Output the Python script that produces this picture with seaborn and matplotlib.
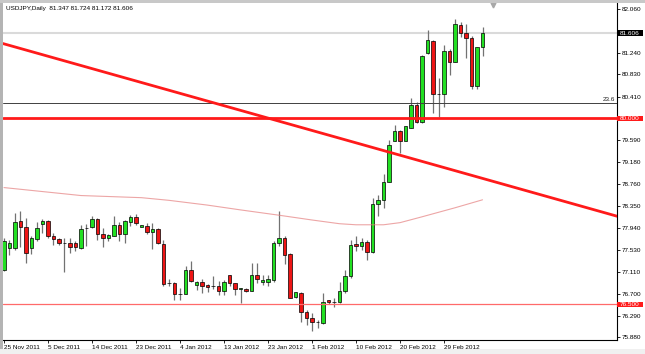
import numpy as np
import pandas as pd
import matplotlib
matplotlib.use("Agg")
import matplotlib.pyplot as plt
import matplotlib.transforms as mtransforms
from matplotlib.patches import Rectangle
import seaborn as sns

# chart header
title_text = "USDJPY,Daily  81.347 81.724 81.172 81.606"

# daily candles, one per bar
opens = [77.15, 77.57, 77.56, 78.07, 77.95, 77.57, 77.73, 78.01, 78.07, 77.79,
         77.73, 77.65, 77.65, 77.65, 77.57, 77.94, 77.95, 78.11, 77.82, 77.75,
         77.79, 77.99, 77.83, 78.06, 78.14, 77.96, 77.98, 77.86, 77.92, 77.64,
         76.91, 76.91, 76.70, 76.70, 77.15, 76.87, 76.92, 76.86, 76.84, 76.84,
         76.76, 77.05, 76.90, 76.80, 76.79, 76.76, 77.05, 76.92, 76.93, 76.96,
         77.65, 77.76, 77.45, 76.64, 76.71, 76.36, 76.24, 76.17, 76.15, 76.58,
         76.55, 76.55, 76.75, 77.04, 77.63, 77.61, 77.67, 77.49, 78.39, 78.47,
         78.81, 79.58, 79.77, 79.58, 79.83, 80.26, 79.93, 81.23, 81.46, 80.46,
         80.46, 81.27, 81.07, 81.76, 81.60, 81.52, 80.62, 81.347]
highs = [77.76, 77.72, 78.22, 78.26, 78.12, 77.79, 78.05, 78.11, 78.09, 77.84,
         77.76, 77.76, 77.75, 77.69, 78.00, 78.01, 78.16, 78.12, 77.94, 77.83,
         78.16, 78.05, 78.09, 78.19, 78.21, 78.00, 78.03, 78.03, 77.94, 77.72,
         76.98, 76.93, 76.81, 77.23, 77.31, 76.95, 76.98, 76.88, 77.03, 76.95,
         76.96, 77.06, 76.91, 76.81, 76.81, 77.29, 77.28, 77.05, 77.06, 77.69,
         78.26, 77.78, 77.46, 76.74, 76.73, 76.40, 76.34, 76.21, 76.71, 76.59,
         76.62, 76.93, 77.15, 77.72, 77.78, 77.76, 77.72, 78.51, 78.56, 78.95,
         79.60, 79.88, 79.78, 79.86, 80.39, 80.31, 81.20, 81.67, 81.48, 80.77,
         81.38, 81.30, 81.87, 81.81, 81.78, 81.56, 81.35, 81.724]
lows = [77.13, 77.43, 77.53, 77.59, 77.28, 77.45, 77.69, 77.84, 77.76, 77.62,
        77.62, 77.11, 77.47, 77.51, 77.55, 77.61, 77.94, 77.72, 77.58, 77.69,
        77.78, 77.69, 77.65, 77.97, 77.99, 77.95, 77.82, 77.54, 77.63, 76.84,
        76.84, 76.59, 76.59, 76.69, 76.93, 76.78, 76.71, 76.74, 76.80, 76.68,
        76.68, 76.84, 76.68, 76.53, 76.73, 76.75, 76.90, 76.87, 76.84, 76.92,
        77.60, 77.26, 76.62, 76.63, 76.18, 76.12, 76.00, 76.06, 76.13, 76.50,
        76.46, 76.53, 76.71, 77.00, 77.50, 77.53, 77.34, 77.47, 78.16, 78.32,
        78.80, 79.57, 79.35, 79.57, 79.82, 79.91, 79.91, 81.21, 80.10, 80.02,
        80.22, 80.82, 81.06, 81.54, 81.14, 80.56, 80.56, 81.172]
closes = [77.70, 77.65, 78.06, 77.95, 77.47, 77.75, 77.94, 78.07, 77.78, 77.73,
          77.65, 77.65, 77.58, 77.58, 77.92, 77.93, 78.11, 77.83, 77.76, 77.80,
          77.99, 77.83, 78.07, 78.14, 78.03, 77.99, 77.86, 77.92, 77.65, 76.88,
          76.90, 76.70, 76.69, 77.15, 76.95, 76.92, 76.84, 76.83, 76.84, 76.76,
          76.92, 76.90, 76.80, 76.80, 76.76, 77.05, 76.98, 76.96, 76.98, 77.65,
          77.76, 77.43, 76.63, 76.73, 76.36, 76.24, 76.17, 76.17, 76.54, 76.55,
          76.55, 76.75, 77.04, 77.62, 77.61, 77.67, 77.49, 78.39, 78.47, 78.81,
          79.50, 79.77, 79.58, 79.85, 80.26, 79.93, 81.18, 81.48, 80.46, 80.47,
          81.27, 81.07, 81.77, 81.60, 81.51, 80.62, 81.34, 81.606]

# x axis date labels (bar index of each label)
date_ticks = [0, 8, 16, 24, 32, 40, 48, 56, 64, 72, 80]
date_labels = ["25 Nov 2011", "5 Dec 2011", "14 Dec 2011", "23 Dec 2011",
               "4 Jan 2012", "13 Jan 2012", "23 Jan 2012", "1 Feb 2012",
               "10 Feb 2012", "20 Feb 2012", "29 Feb 2012"]

# right price scale
price_ticks = [82.060, 81.650, 81.240, 80.830, 80.410, 80.000, 79.590, 79.180,
               78.760, 78.350, 77.940, 77.530, 77.110, 76.700, 76.290, 75.880]

# moving average, sampled off the chart
ma_bars = [0, 14, 25, 30, 37, 43, 50, 56, 61, 64, 69, 72, 76, 82, 87]
ma_values = [78.70, 78.55, 78.51, 78.46, 78.37, 78.28, 78.18, 78.09, 78.02,
             78.00, 78.00, 78.04, 78.15, 78.32, 78.47]

# drawn objects
trend_bars = [-0.2, 111.5]
trend_prices = [81.41, 78.16]
resistance = 80.000
support = 76.500
fib_level = 80.29
fib_label = "23.6"
bid = 81.606

sns.set_style("white")
plt.rcParams['font.family'] = ['Liberation Sans', 'DejaVu Sans']
fs = 4.6

fig = plt.figure(figsize=(6.45, 3.54), dpi=100)
ax = fig.add_axes([3 / 645, 14 / 354, 614 / 645, 337 / 354])

df = pd.DataFrame({"open": opens, "high": highs, "low": lows, "close": closes})
df["bar"] = np.arange(len(df))
up = df["close"] >= df["open"]

# wicks and bodies
ax.vlines(df["bar"], df["low"], df["high"], color="#727272", lw=0.9, zorder=2)
body_h = (df["close"] - df["open"]).abs().clip(lower=0.004)
body_b = df[["open", "close"]].min(axis=1)
ax.bar(df["bar"], body_h, bottom=body_b, width=0.62,
       color=np.where(up, "#22e022", "#ee1515"), edgecolor="black",
       linewidth=0.5, zorder=3)

# horizontal levels and lines
ax.axhline(bid, color="#dadada", lw=1.5, zorder=1)
ax.axhline(fib_level, color="#404040", lw=0.7, zorder=4)
ax.axhline(resistance, color="#ff1a1a", lw=2.0, zorder=4)
ax.axhline(support, color="#ff6a6a", lw=0.9, zorder=4)
sns.lineplot(x=trend_bars, y=trend_prices, ax=ax, color="#ff1a1a", lw=2.0,
             zorder=4, legend=False)
sns.lineplot(x=ma_bars, y=ma_values, ax=ax, color="#e58080", lw=0.8,
             alpha=0.7, zorder=4, legend=False)

ax.set_xlim(-0.18, 111.45)
ax.set_ylim(75.832, 82.173)
ax.set_xlabel("")
ax.set_ylabel("")

# labels hidden under the boxed price tags are left blank
boxed = [bid, resistance, support]
ax.yaxis.tick_right()
ax.set_yticks(price_ticks)
ax.set_yticklabels(["" if min(abs(v - b) for b in boxed) < 0.06 else f"{v:.3f}"
                    for v in price_ticks])
ax.set_xticks(date_ticks)
ax.set_xticklabels(date_labels, ha="left")
ax.tick_params(axis="both", labelsize=fs, colors="black", length=2.5,
               width=0.6, direction="out", pad=1.2)
ax.tick_params(axis="y", left=False, right=True)
ax.tick_params(axis="x", bottom=True, top=False)

for side in ["top", "left"]:
    ax.spines[side].set_visible(False)
for side in ["right", "bottom"]:
    ax.spines[side].set_color("black")
    ax.spines[side].set_linewidth(0.8)

# header text and level labels
ax.text(0.005, 0.984, title_text, transform=ax.transAxes, fontsize=fs,
        ha="left", va="center", color="black")
trans = mtransforms.blended_transform_factory(ax.transAxes, ax.transData)
ax.text(0.9967, fib_level + 0.015, fib_label, fontsize=fs, ha="right",
        va="bottom", color="#202020", transform=trans)

box_w = 25.5 / 614
for price, fc in [(bid, "black"), (resistance, "#ff1a1a"), (support, "#ff1a1a")]:
    ax.add_patch(Rectangle((1.0, price - 0.054), box_w, 0.108, transform=trans,
                           facecolor=fc, edgecolor="none", clip_on=False, zorder=6))
    ax.text(1.0 + box_w / 2, price, f"{price:.3f}", transform=trans,
            fontsize=fs, color="white", ha="center", va="center",
            clip_on=False, zorder=7)

# chart shift marker
ax.plot([88.85], [82.14], marker="v", color="#a8a8a8", ms=3.5, clip_on=False,
        zorder=6)

# window frame
fig.patches.append(Rectangle((0, 0), 2.5 / 645, 1, transform=fig.transFigure,
                             facecolor="#b4b4b4", edgecolor="none"))
fig.patches.append(Rectangle((0, 1 - 2.5 / 354), 1, 2.5 / 354,
                             transform=fig.transFigure,
                             facecolor="#c8c8c8", edgecolor="none"))
fig.patches.append(Rectangle((0, 0), 1, 5 / 354, transform=fig.transFigure,
                             facecolor="#f0f0f0", edgecolor="none"))

fig.savefig("out.png", dpi=100)
